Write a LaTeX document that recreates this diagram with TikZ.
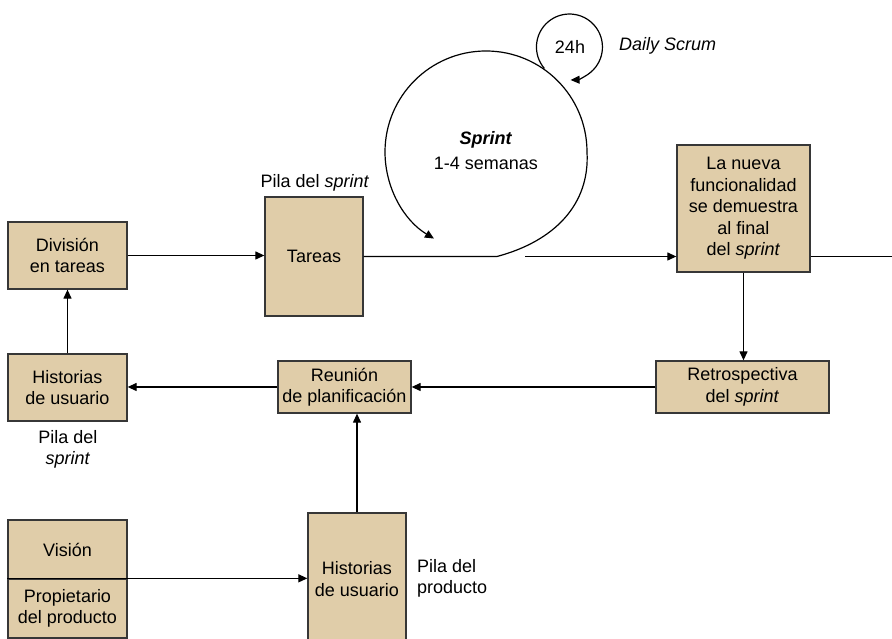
\documentclass[tikz,border=0pt]{standalone}
\usepackage{fontspec}
\setmainfont{Liberation Sans}
\usetikzlibrary{arrows.meta}
\definecolor{boxfill}{RGB}{224,205,169}
\definecolor{edge}{RGB}{55,55,55}
\newcommand\lbl{\fontsize{18}{21.5}\selectfont}
\begin{document}
\begin{tikzpicture}[x=1pt,y=1pt,
  box/.style={draw=edge, line width=1.3pt, fill=boxfill, align=center,
              inner sep=0pt, font=\lbl},
  conn/.style={line width=1.2pt, draw=black},
  arr/.style={conn, -{Triangle[length=9pt,width=8pt]}},
  txt/.style={font=\lbl, inner sep=0pt, align=center}]
\useasboundingbox (0,0) rectangle (892,639);
\clip (0,0) rectangle (892,639);

% boxes
\node[box, minimum width=119, minimum height=67] (div) at (67.5,383.5) {División\\en tareas};
\node[box, minimum width=98, minimum height=119] (tareas) at (314,382.5) {Tareas};
\node[box, minimum width=119, minimum height=67] (hist1) at (67.5,251.5) {Historias\\de usuario};
\node[box, minimum width=133, minimum height=52] (reunion) at (344.5,252) {Reunión\\de planificación};
\node[box, minimum width=173, minimum height=52] (retro) at (742.5,252) {Retrospectiva\\del \textit{sprint}};
\node[box, minimum width=133, minimum height=127] (nueva) at (743.5,430.5)
  {La nueva\\funcionalidad\\se demuestra\\al final\\del \textit{sprint}};
\node[box, minimum width=119, minimum height=59] (vision) at (67.5,89.5) {Visión};
\node[box, minimum width=119, minimum height=59] (prop) at (67.5,30.5) {Propietario\\del producto};
\node[box, minimum width=98, minimum height=132] (hist2) at (357,60) {Historias\\de usuario};

% labels
\node[txt] (pilaS) at (315,456) {Pila del \textit{sprint}};
\node[txt] (pilaS2) at (68,189.5) {Pila del\\\textit{sprint}};
\node[txt, anchor=west, align=left] (pilaP) at (417,60.5) {Pila del\\producto};
\node[txt] (sprint) at (486,499) {\textbf{\textit{Sprint}}};
\node[txt] (sem) at (486,476) {1-4 semanas};
\node[txt] (h24) at (570,592) {24h};
\node[txt, anchor=west] (daily) at (619,593) {\textit{Daily Scrum}};

% sprint loop
\coordinate (s0) at (497,382.5);
\coordinate (s1) at (525,382.5);
\draw[arr] (tareas.east) -- (s0) .. controls (555,398) and (590,435) .. (587,487)
  arc[start angle=0, end angle=239, radius=101];
\draw[arr] (s1) -- (s1 -| nueva.west);
\coordinate (dend) at (892,382.5);
\draw[conn] (nueva.east |- dend) -- (dend);

% daily loop
\coordinate (ds) at (544.4,570.5);
\draw[arr] (ds) arc[start angle=220.6, end angle=-88, radius=33];

% connectors
\draw[arr] (div.east) -- (div.east -| tareas.west);
\draw[arr] (nueva.south) -- (nueva.south |- retro.north);
\draw[arr] (retro.west) -- (reunion.east);
\draw[arr] (reunion.west) -- (reunion.west -| hist1.east);
\draw[arr] (hist1.north) -- (div.south);
\draw[arr] (hist2.north) -- (hist2.north |- reunion.south);
\draw[arr] (prop.north west) -- (prop.north west -| hist2.west);
\end{tikzpicture}
\end{document}
